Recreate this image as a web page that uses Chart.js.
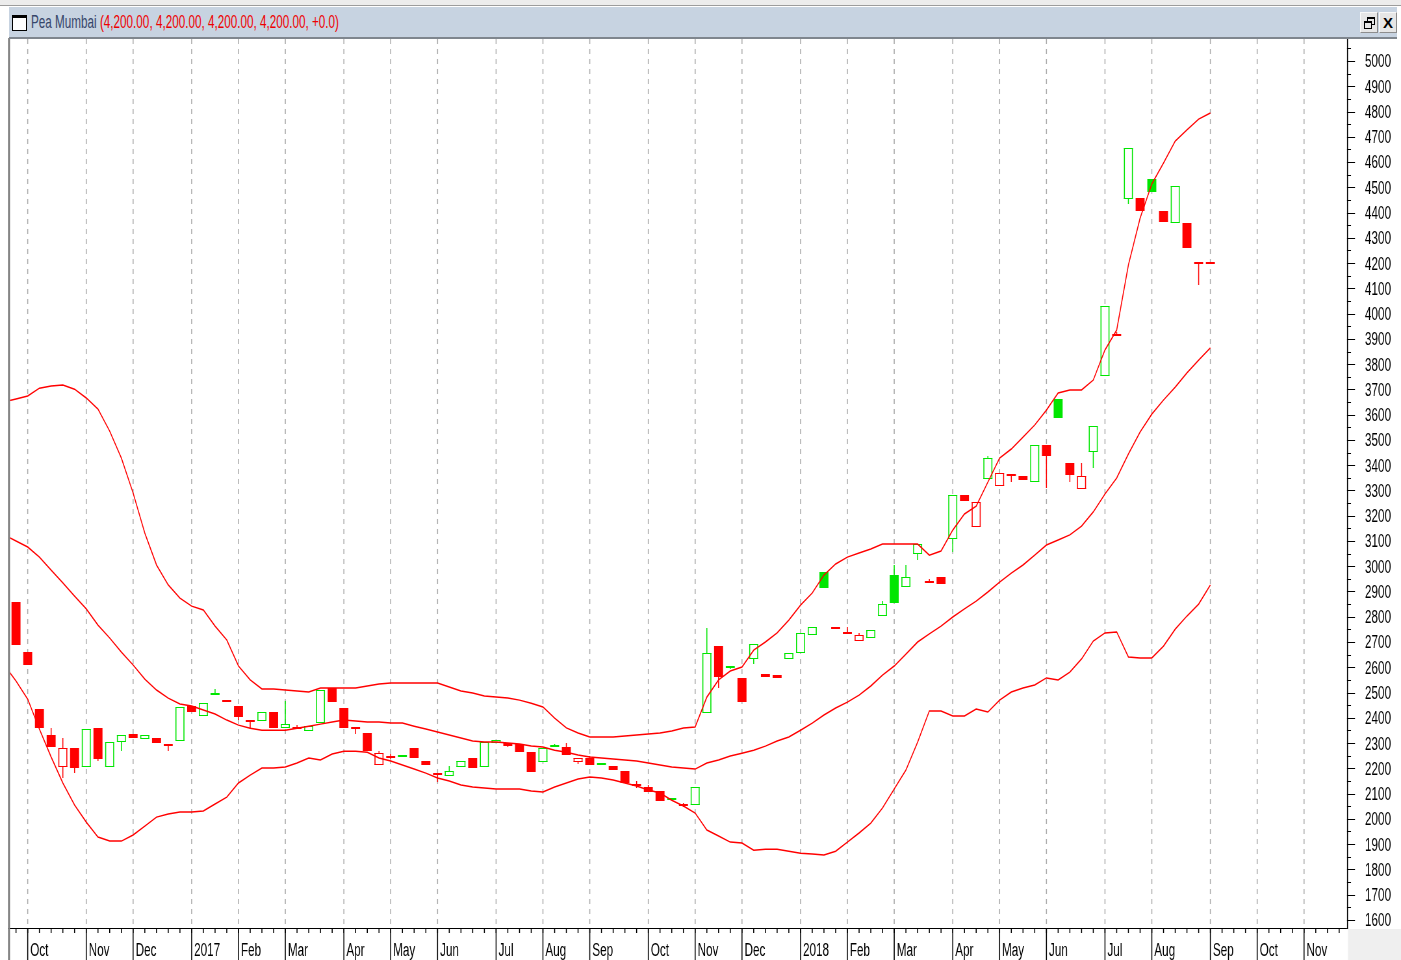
<!DOCTYPE html>
<html>
<head>
<meta charset="utf-8">
<script src="https://cdn.jsdelivr.net/npm/chart.js@4.4.1/dist/chart.umd.min.js"></script>
<style>
  body { margin: 0; width: 1401px; height: 960px; overflow: hidden; background: #fff; position: relative;
         font-family: 'Liberation Sans', Arial, sans-serif; }
  #strip { position: absolute; left: 0; top: 0; width: 1401px; height: 5px; background: #ececec; border-bottom: 1px solid #9c9c9c; }
  #bar { position: absolute; left: 9px; top: 7px; width: 1388px; height: 30px; background: #c7d3e1; border-bottom: 2px solid #7f868e; }
  #ico { position: absolute; left: 3px; top: 8px; width: 13px; height: 12px; background: #fff; border: 1px solid #000; border-top-width: 3px; }
  #ttl { position: absolute; left: 22px; top: 0; line-height: 31px; font-size: 18px; white-space: nowrap;
         transform: scaleX(0.65); transform-origin: 0 50%; }
  #ttl .nm { color: #36466a; }
  #ttl .vals { color: #ee0000; }
  .btn { position: absolute; top: 5px; width: 16px; height: 19px; background: #e6e6e6; border: 1px solid #f8f8f8;
         border-right-color: #8d8d8d; border-bottom-color: #8d8d8d; }
  #b1 { left: 1351px; }
  #b2 { left: 1370px; font: bold 15px 'Liberation Sans', Arial, sans-serif; text-align: center; line-height: 19px; color: #000; }
  #b1 i { position: absolute; width: 6px; height: 5px; border: 1px solid #000; border-top-width: 2px; background: #e6e6e6; }
  #b1 i:first-child { left: 6px; top: 4px; }
  #b1 i:last-child { left: 3px; top: 8px; }
  #chart { position: absolute; left: 0; top: 0; }
</style>
</head>
<body>
<canvas id="chart" width="2156" height="960" style="width:1401px;height:960px"></canvas>
<div id="strip"></div>
<div id="bar">
  <div id="ico"></div>
  <span id="ttl"><span class="nm">Pea Mumbai </span><span class="vals">(4,200.00, 4,200.00, 4,200.00, 4,200.00, +0.0)</span></span>
  <div class="btn" id="b1"><i></i><i></i></div>
  <div class="btn" id="b2">X</div>
</div>
<script>
// weekly bars, week 0 = last week of Sep 2016
const monthWeeks = [1, 6, 10, 15, 19, 23, 28, 32, 36, 41, 45, 49, 54, 58, 62, 67, 71, 75, 80, 84, 88, 93, 97, 102, 106, 110];
const monthLabels = ['Oct', 'Nov', 'Dec', '2017', 'Feb', 'Mar', 'Apr', 'May', 'Jun', 'Jul', 'Aug', 'Sep',
                     'Oct', 'Nov', 'Dec', '2018', 'Feb', 'Mar', 'Apr', 'May', 'Jun', 'Jul', 'Aug', 'Sep', 'Oct', 'Nov'];
const priceTicks = [1600, 1700, 1800, 1900, 2000, 2100, 2200, 2300, 2400, 2500, 2600, 2700, 2800, 2900, 3000, 3100, 3200,
                    3300, 3400, 3500, 3600, 3700, 3800, 3900, 4000, 4100, 4200, 4300, 4400, 4500, 4600, 4700, 4800, 4900, 5000];

const opens = [
  2858, 2660, 2435, 2332, 2205, 2280, 2205, 2360, 2205, 2304,
  2336, 2316, 2320, 2292, 2308, 2447, 2407, 2498, 2466, 2447,
  2387, 2387, 2423, 2360, 2364, 2348, 2379, 2518, 2439, 2358,
  2340, 2213, 2244, 2252, 2280, 2229, 2177, 2169, 2205, 2241,
  2205, 2300, 2300, 2296, 2264, 2225, 2294, 2284, 2225, 2241,
  2221, 2209, 2189, 2134, 2126, 2110, 2083, 2055, 2055, 2419,
  2684, 2605, 2557, 2633, 2573, 2569, 2633, 2656, 2728, 2977,
  2755, 2736, 2704, 2716, 2803, 2965, 2918, 3048, 2942, 2957,
  3108, 3282, 3155, 3345, 3317, 3357, 3357, 3333, 3480, 3662,
  3408, 3306, 3452, 3753, 3915, 4454, 4458, 4533, 4406, 4359,
  4359, 4200, 4200
];
const highs = [
  2858, 2660, 2435, 2360, 2320, 2280, 2356, 2360, 2304, 2332,
  2336, 2332, 2320, 2292, 2443, 2447, 2459, 2514, 2466, 2447,
  2387, 2423, 2423, 2466, 2372, 2367, 2510, 2518, 2439, 2358,
  2340, 2268, 2258, 2252, 2280, 2229, 2177, 2209, 2229, 2241,
  2304, 2312, 2300, 2296, 2264, 2280, 2298, 2300, 2241, 2249,
  2221, 2209, 2189, 2150, 2134, 2110, 2083, 2063, 2126, 2755,
  2684, 2605, 2557, 2692, 2573, 2569, 2656, 2736, 2759, 2977,
  2759, 2759, 2736, 2747, 2862, 3005, 3005, 3088, 2950, 2957,
  3282, 3282, 3254, 3436, 3369, 3365, 3357, 3480, 3480, 3662,
  3408, 3408, 3555, 4030, 3927, 4656, 4458, 4533, 4406, 4505,
  4359, 4200, 4200
];
const lows = [
  2688, 2610, 2360, 2284, 2162, 2181, 2205, 2229, 2205, 2268,
  2320, 2316, 2300, 2270, 2308, 2423, 2407, 2490, 2466, 2391,
  2356, 2387, 2360, 2360, 2356, 2348, 2379, 2462, 2360, 2336,
  2268, 2213, 2236, 2246, 2241, 2213, 2146, 2169, 2205, 2201,
  2205, 2300, 2284, 2264, 2185, 2225, 2288, 2253, 2217, 2213,
  2217, 2193, 2142, 2122, 2106, 2071, 2075, 2047, 2055, 2419,
  2518, 2593, 2462, 2613, 2561, 2557, 2633, 2656, 2728, 2914,
  2755, 2736, 2704, 2716, 2803, 2854, 2918, 3025, 2934, 2930,
  3056, 3258, 3155, 3345, 3317, 3333, 3341, 3333, 3310, 3587,
  3333, 3306, 3389, 3753, 3915, 4434, 4406, 4481, 4363, 4359,
  4260, 4113, 4200
];
const closes = [
  2688, 2610, 2360, 2284, 2280, 2201, 2356, 2237, 2304, 2332,
  2320, 2332, 2300, 2292, 2443, 2423, 2459, 2490, 2466, 2403,
  2387, 2423, 2360, 2375, 2356, 2367, 2510, 2462, 2360, 2358,
  2268, 2260, 2244, 2246, 2241, 2213, 2177, 2189, 2229, 2201,
  2304, 2312, 2290, 2264, 2185, 2280, 2288, 2253, 2241, 2213,
  2217, 2193, 2142, 2134, 2106, 2071, 2075, 2055, 2126, 2656,
  2561, 2600, 2462, 2692, 2561, 2557, 2656, 2736, 2759, 2914,
  2755, 2736, 2728, 2747, 2850, 2854, 2957, 3088, 2934, 2930,
  3282, 3258, 3254, 3428, 3369, 3365, 3341, 3480, 3436, 3587,
  3361, 3357, 3555, 4030, 3915, 4656, 4406, 4481, 4363, 4505,
  4260, 4200, 4200
];

// Bollinger bands, read per week, starting one week before the first bar (week -1)
const upperBand = [
  3650, 3662, 3674, 3705, 3713, 3717, 3701, 3666, 3622, 3535,
  3428, 3290, 3131, 3005, 2926, 2874, 2842, 2827, 2763, 2708,
  2605, 2550, 2514, 2514, 2510, 2506, 2502, 2518, 2518, 2518,
  2518, 2526, 2534, 2538, 2538, 2538, 2538, 2538, 2522, 2506,
  2498, 2486, 2482, 2478, 2470, 2458, 2443, 2399, 2360, 2340,
  2324, 2324, 2324, 2328, 2332, 2336, 2340, 2348, 2360, 2364,
  2482, 2550, 2585, 2601, 2668, 2700, 2736, 2787, 2846, 2894,
  2965, 3009, 3036, 3052, 3068, 3088, 3088, 3088, 3088, 3044,
  3060, 3143, 3207, 3238, 3333, 3428, 3464, 3511, 3559, 3618,
  3686, 3698, 3698, 3737, 3856, 3935, 4192, 4378, 4513, 4596,
  4683, 4727, 4770, 4794
];
const midBand = [
  3124, 3100, 3076, 3036, 2985, 2934, 2882, 2831, 2767, 2716,
  2660, 2609, 2553, 2510, 2478, 2455, 2447, 2431, 2415, 2391,
  2371, 2359, 2351, 2351, 2351, 2359, 2367, 2375, 2383, 2391,
  2387, 2383, 2383, 2379, 2379, 2367, 2356, 2344, 2332, 2320,
  2308, 2304, 2304, 2300, 2296, 2288, 2284, 2272, 2264, 2253,
  2245, 2241, 2237, 2233, 2229, 2221, 2213, 2205, 2201, 2197,
  2221, 2233, 2249, 2260, 2272, 2288, 2308, 2324, 2351, 2379,
  2411, 2439, 2462, 2490, 2526, 2569, 2605, 2652, 2700, 2732,
  2763, 2799, 2831, 2862, 2898, 2937, 2973, 3005, 3044, 3084,
  3104, 3124, 3159, 3215, 3286, 3349, 3444, 3531, 3602, 3658,
  3709, 3765, 3816, 3864
];
const lowerBand = [
  2609, 2546, 2474, 2355, 2245, 2142, 2055, 1987, 1928, 1912,
  1912, 1936, 1971, 2007, 2019, 2027, 2027, 2031, 2059, 2086,
  2142, 2173, 2201, 2201, 2205, 2221, 2241, 2233, 2257, 2268,
  2268, 2264, 2241, 2229, 2213, 2197, 2181, 2162, 2150, 2134,
  2126, 2122, 2118, 2118, 2118, 2110, 2106, 2126, 2142, 2158,
  2166, 2162, 2154, 2142, 2130, 2114, 2102, 2074, 2051, 2023,
  1956, 1932, 1908, 1904, 1876, 1880, 1880, 1872, 1864, 1861,
  1857, 1872, 1908, 1944, 1983, 2043, 2118, 2193, 2304, 2427,
  2427, 2407, 2407, 2435, 2423, 2470, 2502, 2518, 2530, 2558,
  2550, 2581, 2633, 2704, 2736, 2740, 2641, 2637, 2637, 2684,
  2751, 2803, 2850, 2926
];

// the reference screenshot is squeezed sideways, so draw wide and let css squeeze it
const SX = 1401 / 2156;
const RED = '#ff0000';
const GREEN = '#00e600';
const FONT = { family: "'Liberation Sans', Arial, sans-serif", size: 18 };

const bandData = (arr) => arr.map((v, k) => ({ x: k - 1, y: v }));

const candles = {
  id: 'candles',
  beforeDatasetsDraw(chart) {
    const { ctx, chartArea: a, scales: { x, y } } = chart;
    ctx.save();
    ctx.strokeStyle = '#aaaaaa';
    ctx.lineWidth = 1 / SX;
    ctx.setLineDash([5, 5]);
    monthWeeks.forEach((w) => {
      const px = x.getPixelForValue(w);
      ctx.beginPath();
      ctx.moveTo(px, a.top);
      ctx.lineTo(px, a.bottom);
      ctx.stroke();
    });
    ctx.setLineDash([]);

    const half = 4.5 / SX;
    const px1 = 1 / SX;
    closes.forEach((c, i) => {
      const o = opens[i];
      const col = i > 0 && c > closes[i - 1] ? GREEN : RED;
      const px = x.getPixelForValue(i);
      const yh = Math.round(y.getPixelForValue(highs[i]));
      const yl = Math.round(y.getPixelForValue(lows[i]));
      ctx.fillStyle = col;
      ctx.fillRect(px - px1 / 2, yh, px1, Math.max(1, yl - yh));
      if (o === c) {
        const yc = Math.round(y.getPixelForValue(c));
        ctx.fillRect(px - half, yc - 1, 2 * half, 2);
        return;
      }
      const top = Math.round(y.getPixelForValue(Math.max(o, c)));
      const bot = Math.round(y.getPixelForValue(Math.min(o, c)));
      const h = Math.max(2, bot - top);
      if (c > o) {
        ctx.fillStyle = '#fff';
        ctx.fillRect(px - half, top, 2 * half, h);
        ctx.fillStyle = col;
        ctx.fillRect(px - half, top, 2 * half, 1);
        ctx.fillRect(px - half, top + h - 1, 2 * half, 1);
        ctx.fillRect(px - half, top, px1, h);
        ctx.fillRect(px + half - px1, top, px1, h);
      } else {
        ctx.fillRect(px - half, top, 2 * half, h);
      }
    });
    ctx.restore();
  },
  afterDraw(chart) {
    const { ctx, chartArea: a, scales: { x, y } } = chart;
    const px1 = 1 / SX;
    ctx.save();
    // corner box under the price axis
    ctx.fillStyle = '#efefef';
    ctx.fillRect(a.right + px1, a.bottom + 1, chart.width, chart.height);
    ctx.fillStyle = '#000';
    ctx.fillRect(8 / SX, a.bottom, a.right - 8 / SX, 1);
    ctx.fillRect(a.right, a.top, px1, a.bottom - a.top + 1);
    // week ticks and month separators on the time axis
    for (let w = 0; w <= 113; w++) {
      ctx.fillRect(x.getPixelForValue(w) - px1 / 2, a.bottom, px1, 5);
    }
    monthWeeks.forEach((w) => ctx.fillRect(x.getPixelForValue(w) - px1 / 2, a.bottom, px1, chart.height - a.bottom));
    // price ticks, long at hundreds
    for (let v = 1600; v <= 5050; v += 50) {
      const py = Math.round(y.getPixelForValue(v));
      ctx.fillRect(a.right, py, (v % 100 === 0 ? 8 : 4) / SX, 1);
    }
    // left frame
    ctx.fillStyle = '#808080';
    ctx.fillRect(8 / SX, 38, 2 / SX, chart.height - 38);
    ctx.restore();
  }
};

new Chart(document.getElementById('chart'), {
  type: 'line',
  data: {
    datasets: [
      { data: bandData(upperBand), borderColor: RED, borderWidth: 1.5, pointRadius: 0, tension: 0 },
      { data: bandData(midBand), borderColor: RED, borderWidth: 1.5, pointRadius: 0, tension: 0 },
      { data: bandData(lowerBand), borderColor: RED, borderWidth: 1.5, pointRadius: 0, tension: 0 }
    ]
  },
  options: {
    responsive: false,
    animation: false,
    devicePixelRatio: 1,
    events: [],
    layout: { padding: { left: 10 / SX, top: 39, right: 0, bottom: 0 } },
    plugins: { legend: { display: false }, tooltip: { enabled: false } },
    scales: {
      x: {
        type: 'linear',
        min: -0.512,
        max: 113.67,
        grid: { display: false, drawTicks: false },
        border: { display: false },
        afterBuildTicks: (s) => { s.ticks = monthWeeks.map((w) => ({ value: w })); },
        afterFit: (s) => {
          s.height = 32;
          s.paddingLeft = 0;
          s.paddingRight = 0;
        },
        ticks: {
          autoSkip: false,
          maxRotation: 0,
          align: 'start',
          labelOffset: 2.5 / SX,
          padding: 12,
          color: '#000',
          font: FONT,
          callback: (v, i) => monthLabels[i]
        }
      },
      y: {
        position: 'right',
        min: 1568,
        max: 5087,
        grid: { display: false, drawTicks: false },
        border: { display: false },
        afterBuildTicks: (s) => { s.ticks = priceTicks.map((v) => ({ value: v })); },
        afterFit: (s) => {
          s.width = 54 / SX;
          s.paddingTop = 0;
          s.paddingBottom = 0;
        },
        ticks: { padding: 18 / SX, labelOffset: 1.5, color: '#000', font: FONT, callback: (v) => String(v) }
      }
    }
  },
  plugins: [candles]
});
</script>
</body>
</html>
